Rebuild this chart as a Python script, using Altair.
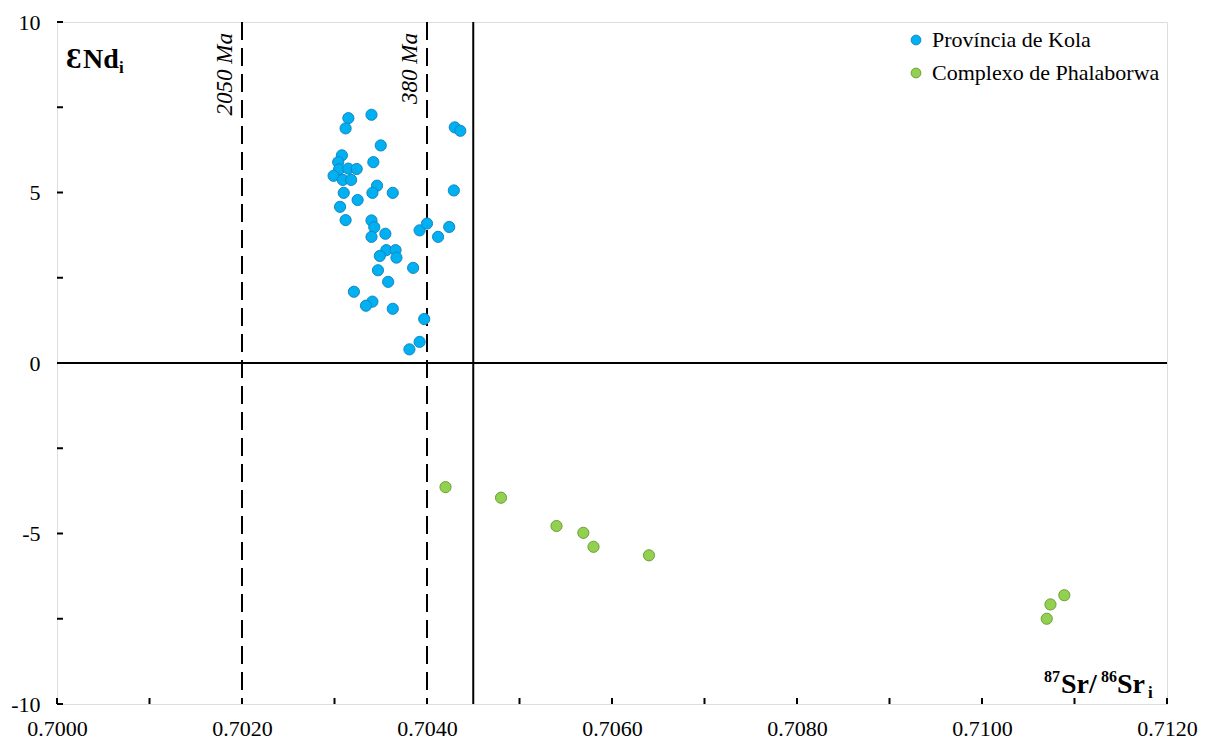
import altair as alt
import pandas as pd

# ---- data ----
kola_sr = [0.70315, 0.70340, 0.70312, 0.70430, 0.70436, 0.70350, 0.70308, 0.70342,
           0.70304, 0.70305, 0.70315, 0.70324, 0.70299, 0.70309, 0.70318, 0.70346,
           0.70341, 0.70363, 0.70429, 0.70310, 0.70325, 0.70306, 0.70312, 0.70340,
           0.70343, 0.70340, 0.70355, 0.70392, 0.70400, 0.70424, 0.70412, 0.70356,
           0.70366, 0.70349, 0.70367, 0.70385, 0.70347, 0.70358, 0.70321, 0.70341,
           0.70334, 0.70363, 0.70397, 0.70392, 0.70381]
kola_nd = [7.18, 7.28, 6.88, 6.91, 6.81, 6.38, 6.09, 5.89,
           5.89, 5.68, 5.70, 5.69, 5.49, 5.37, 5.37, 5.20,
           4.99, 4.99, 5.06, 4.99, 4.78, 4.58, 4.19, 4.18,
           3.98, 3.70, 3.79, 3.89, 4.09, 3.99, 3.70, 3.31,
           3.31, 3.14, 3.09, 2.79, 2.72, 2.38, 2.09, 1.80,
           1.68, 1.59, 1.29, 0.62, 0.40]
phal_sr = [0.70420, 0.70480, 0.70540, 0.70569, 0.70580, 0.70640, 0.71089, 0.71074, 0.71070]
phal_nd = [-3.64, -3.95, -4.78, -4.98, -5.39, -5.64, -6.81, -7.08, -7.50]

groups = ["Província de Kola", "Complexo de Phalaborwa"]
fills = ["#00B0F0", "#92D050"]
strokes = ["#1487C4", "#6E9E38"]

x_labels = [0.700, 0.702, 0.704, 0.706, 0.708, 0.710, 0.712]
x_ticks = [0.700, 0.701, 0.702, 0.703, 0.704, 0.705, 0.706, 0.707, 0.708, 0.709, 0.710, 0.711, 0.712]
y_labels = [-10, -5, 0, 5, 10]
y_ticks = [-10, -7.5, -5, -2.5, 0, 2.5, 5, 7.5, 10]
age_x = [0.7020, 0.7040]
age_text = ["2050 Ma", "380 Ma"]
limit_x = [0.7045]
zero_y = [0]

W, H = 1110, 682
FONT = "Liberation Serif"

pts = pd.DataFrame({
    "sr": kola_sr + phal_sr,
    "nd": kola_nd + phal_nd,
    "grupo": [groups[0]] * len(kola_sr) + [groups[1]] * len(phal_sr),
})

xs = alt.Scale(domain=[0.700, 0.712], nice=False, zero=False)
ys = alt.Scale(domain=[-10, 10], nice=False, zero=False)

x_axis = alt.Axis(values=x_labels, format=".4f", ticks=False, domain=False, grid=False,
                  labelFont=FONT, labelFontSize=22, labelColor="black", labelPadding=14,
                  labelFlush=False, labelOverlap=False, labelBound=False, title=None)
y_axis = alt.Axis(values=y_labels, ticks=False, domain=False, grid=False,
                  labelExpr="datum.value < 0 ? '-' + abs(datum.value) : '' + datum.value",
                  labelFont=FONT, labelFontSize=22, labelColor="black", labelPadding=17,
                  labelFlush=False, labelOverlap=False, labelBound=False, title=None)

# tick marks drawn inside the frame
xt = alt.Chart(pd.DataFrame({"v": x_ticks})).mark_rule(color="black", strokeWidth=2).encode(
    x=alt.X("v:Q", scale=xs, axis=x_axis),
    y=alt.value(H - 6), y2=alt.value(H))
yt = alt.Chart(pd.DataFrame({"v": y_ticks})).mark_rule(color="black", strokeWidth=2).encode(
    y=alt.Y("v:Q", scale=ys, axis=y_axis),
    x=alt.value(0), x2=alt.value(6))

zero_line = alt.Chart(pd.DataFrame({"v": zero_y})).mark_rule(color="black", strokeWidth=2).encode(
    y=alt.Y("v:Q", scale=ys))
limit_line = alt.Chart(pd.DataFrame({"v": limit_x})).mark_rule(color="black", strokeWidth=2).encode(
    x=alt.X("v:Q", scale=xs))
age_df = pd.DataFrame({"v": age_x, "t": age_text})
age_lines = alt.Chart(age_df).mark_rule(color="black", strokeWidth=2, strokeDash=[18, 8]).encode(
    x=alt.X("v:Q", scale=xs))
age_labels = alt.Chart(age_df).mark_text(
    angle=270, align="right", baseline="alphabetic", font=FONT, fontSize=23,
    fontStyle="italic", color="black", dy=-10).encode(
    x=alt.X("v:Q", scale=xs), y=alt.value(11), text="t:N")

points = alt.Chart(pts).mark_circle(size=125, strokeWidth=1, opacity=1).encode(
    x=alt.X("sr:Q", scale=xs),
    y=alt.Y("nd:Q", scale=ys),
    color=alt.Color("grupo:N", scale=alt.Scale(domain=groups, range=fills),
                    legend=alt.Legend(title=None, orient="none", legendX=848, legendY=7,
                                      labelFont=FONT, labelFontSize=22, labelColor="black",
                                      labelLimit=0, symbolSize=95, symbolType="circle",
                                      rowPadding=11, labelOffset=5, padding=0,
                                      symbolStrokeWidth=1)),
    stroke=alt.Stroke("grupo:N", scale=alt.Scale(domain=groups, range=strokes), legend=None),
)

def lbl(text, x, y, size, baseline="alphabetic"):
    return alt.Chart(pd.DataFrame({"t": [text]})).mark_text(
        align="left", baseline=baseline, font=FONT, fontSize=size, fontWeight="bold",
        color="black").encode(x=alt.value(x), y=alt.value(y), text="t:N")

titles = [
    lbl("Ɛ", 9, 46, 29),
    lbl("Nd", 26, 46, 28),
    lbl("i", 62, 51, 17),
    lbl("87", 987, 660, 16),
    lbl("Sr/", 1004, 671, 28),
    lbl("86", 1044, 660, 16),
    lbl("Sr", 1060, 671, 28),
    lbl("i", 1091, 676, 17),
]

chart = alt.layer(xt, yt, zero_line, limit_line, age_lines, age_labels, points, *titles).properties(
    width=W, height=H,
    autosize=alt.AutoSizeParams(type="none"),
    padding={"left": 57, "top": 22, "right": 45, "bottom": 36},
).configure_view(stroke="black", strokeWidth=2).configure(background="white")

chart.save("out.html", embed_options={"renderer": "svg", "actions": False})
